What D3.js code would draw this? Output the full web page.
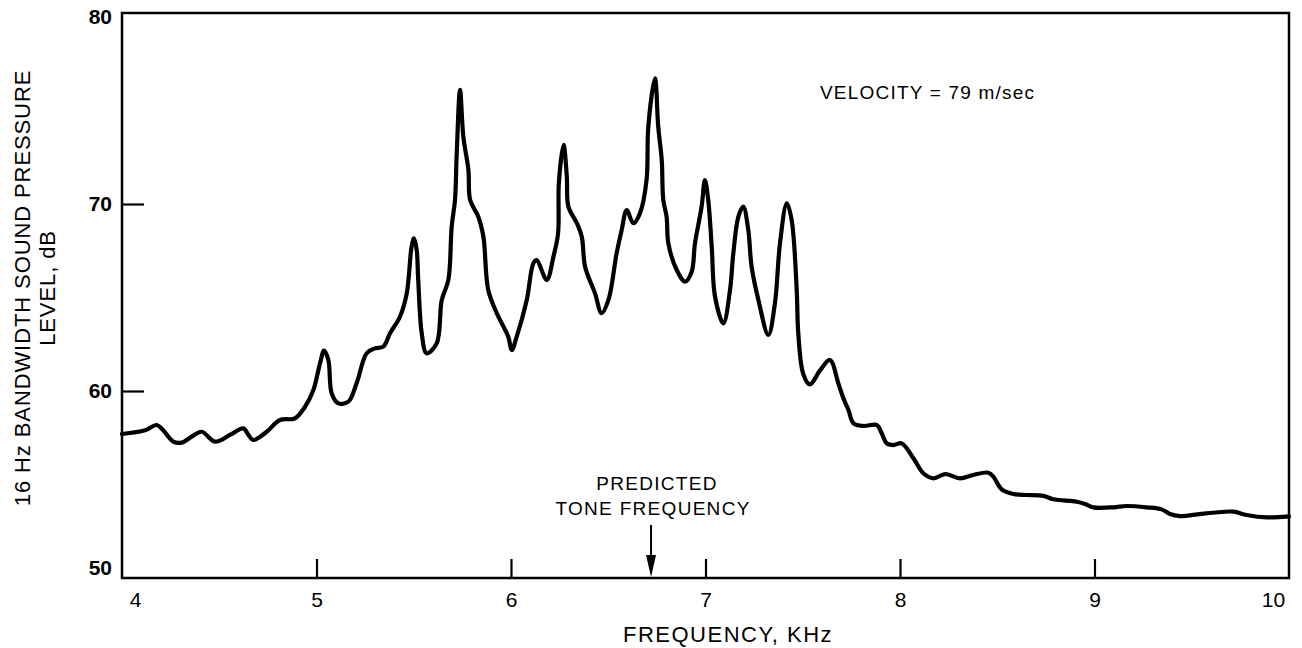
<!DOCTYPE html>
<html>
<head>
<meta charset="utf-8">
<script src="https://cdn.jsdelivr.net/npm/d3@7"></script>
<style>
  html, body { margin: 0; padding: 0; background: #fff; }
  svg { display: block; }
  text { font-family: "Liberation Sans", Arial, Helvetica, sans-serif; fill: #000; }
</style>
</head>
<body>
<svg id="chart" width="1302" height="648"></svg>
<script>
// ---- data ----
const freqKHz = [4.00, 4.118, 4.178, 4.212, 4.264, 4.307, 4.358, 4.41, 4.478, 4.555, 4.624, 4.65, 4.675, 4.744,
  4.812, 4.889, 4.941, 4.984, 5.018, 5.039, 5.061, 5.078, 5.112, 5.164, 5.206, 5.258, 5.30, 5.343, 5.378,
  5.429, 5.464, 5.489, 5.501, 5.515, 5.523, 5.541, 5.566, 5.618, 5.644, 5.678, 5.695, 5.712, 5.721, 5.738,
  5.755, 5.781, 5.79, 5.832, 5.858, 5.883, 5.927, 5.986, 6.004, 6.029, 6.081, 6.115, 6.132, 6.184, 6.218,
  6.242, 6.246, 6.27, 6.287, 6.295, 6.339, 6.364, 6.381, 6.432, 6.466, 6.501, 6.543, 6.569, 6.595, 6.629,
  6.663, 6.697, 6.706, 6.74, 6.757, 6.775, 6.783, 6.80, 6.809, 6.852, 6.895, 6.929, 6.946, 6.98, 6.997,
  7.014, 7.032, 7.049, 7.092, 7.126, 7.143, 7.169, 7.194, 7.22, 7.237, 7.272, 7.323, 7.357, 7.383, 7.418,
  7.443, 7.469, 7.477, 7.503, 7.537, 7.589, 7.64, 7.683, 7.709, 7.735, 7.761, 7.812, 7.881, 7.906, 7.932,
  7.966, 8.009, 8.069, 8.12, 8.172, 8.232, 8.308, 8.377, 8.454, 8.48, 8.523, 8.583, 8.651, 8.737, 8.788,
  8.908, 8.951, 8.994, 9.097, 9.165, 9.268, 9.345, 9.388, 9.44, 9.542, 9.611, 9.714, 9.782, 9.885, 10.0];
const levelDb = [57.7, 57.9, 58.18, 57.9, 57.29, 57.24, 57.56, 57.82, 57.29, 57.65, 58.0, 57.65, 57.38, 57.82,
  58.45, 58.54, 59.16, 60.05, 61.48, 62.16, 61.66, 59.88, 59.34, 59.43, 60.41, 62.02, 62.28, 62.37, 63.09,
  63.97, 65.22, 67.72, 68.16, 67.54, 65.94, 63.09, 62.02, 62.55, 64.87, 65.94, 68.79, 70.21, 72.71, 76.1,
  73.6, 71.82, 70.21, 69.32, 68.25, 65.4, 64.16, 62.9, 62.19, 62.9, 64.87, 66.83, 67.0, 65.94, 67.18,
  68.43, 71.1, 73.16, 71.46, 69.86, 68.97, 68.25, 66.65, 65.22, 64.16, 64.87, 67.36, 68.61, 69.68, 68.97,
  69.5, 71.28, 74.13, 76.72, 74.13, 72.35, 70.21, 69.32, 67.9, 66.47, 65.85, 66.38, 67.9, 69.86, 71.28,
  70.21, 67.72, 65.04, 63.62, 65.4, 67.36, 69.32, 69.86, 68.61, 66.65, 64.87, 63.0, 64.69, 67.9, 70.04,
  69.14, 65.4, 63.09, 60.9, 60.35, 61.1, 61.66, 60.41, 59.61, 58.98, 58.27, 58.13, 58.18, 57.74, 57.2,
  57.11, 57.2, 56.4, 55.6, 55.33, 55.56, 55.33, 55.51, 55.63, 55.42, 54.74, 54.49, 54.44, 54.39, 54.21,
  54.08, 53.96, 53.78, 53.78, 53.85, 53.78, 53.67, 53.42, 53.31, 53.42, 53.49, 53.55, 53.37, 53.24, 53.3];
const xTickValues = [4, 5, 6, 7, 8, 9, 10];
const yTickValues = [50, 60, 70, 80];
const predictedToneKHz = 6.72;
const xTitle = "FREQUENCY, KHz";
const yTitleLines = ["16 Hz BANDWIDTH SOUND PRESSURE", "LEVEL, dB"];
const velocityNote = "VELOCITY = 79 m/sec";
const predictedLines = ["PREDICTED", "TONE FREQUENCY"];

// ---- layout ----
const svg = d3.select("#chart");
const plot = { left: 122, right: 1289, top: 13, bottom: 578 };
const x = d3.scaleLinear().domain([4, 10]).range([plot.left, plot.right]);
const y = d3.scaleLinear().domain([50, 80]).range([578, 17]);

// frame
svg.append("rect")
  .attr("x", plot.left).attr("y", plot.top)
  .attr("width", plot.right - plot.left).attr("height", plot.bottom - plot.top)
  .attr("fill", "none").attr("stroke", "#000").attr("stroke-width", 2.5);

// x axis
const gx = svg.append("g").attr("transform", `translate(0,${plot.bottom})`)
  .call(d3.axisBottom(x).tickValues(xTickValues).tickSizeInner(-19).tickSizeOuter(0).tickPadding(14)
    .tickFormat(d3.format("d")));
gx.select(".domain").remove();
gx.selectAll(".tick line").attr("stroke", "#000").attr("stroke-width", 2.2)
  .filter(d => d === 4 || d === 10).remove();
gx.selectAll(".tick text").attr("font-size", 21).attr("fill", "#000")
  .attr("font-family", "'Liberation Sans', Arial, sans-serif")
  .attr("dx", d => d === 4 ? 13 : d === 10 ? -16 : 0);

// y axis
const gy = svg.append("g").attr("transform", `translate(${plot.left},0)`)
  .call(d3.axisLeft(y).tickValues(yTickValues).tickSizeInner(-22).tickSizeOuter(0).tickPadding(10)
    .tickFormat(d3.format("d")));
gy.select(".domain").remove();
gy.selectAll(".tick line").attr("stroke", "#000").attr("stroke-width", 2.2)
  .filter(d => d === 50 || d === 80).remove();
gy.selectAll(".tick text").attr("font-size", 21).attr("font-weight", "bold").attr("fill", "#000")
  .attr("font-family", "'Liberation Sans', Arial, sans-serif")
  .attr("y", d => d === 50 ? -10 : 0);

// axis titles
svg.append("text").attr("x", 728).attr("y", 642).attr("text-anchor", "middle")
  .attr("font-size", 22).attr("letter-spacing", 1.5).text(xTitle);
const yt = svg.append("text").attr("transform", "translate(30,288) rotate(-90)")
  .attr("text-anchor", "middle").attr("font-size", 22).attr("letter-spacing", 0.9);
yTitleLines.forEach((t, i) => {
  yt.append("tspan").attr("x", 0).attr("y", i * 25).text(t);
});

// curve
const data = freqKHz.map((f, i) => ({ f, v: levelDb[i] }));
svg.append("path").datum(data)
  .attr("fill", "none").attr("stroke", "#000").attr("stroke-width", 4.2)
  .attr("stroke-linejoin", "round").attr("stroke-linecap", "round")
  .attr("d", d3.line().x(d => x(d.f)).y(d => y(d.v)).curve(d3.curveCatmullRom.alpha(0.5)));

// annotations
svg.append("text").attr("x", 820).attr("y", 99).attr("font-size", 19).attr("letter-spacing", 1.2)
  .text(velocityNote);
const px = x(predictedToneKHz);
predictedLines.forEach((t, i) => {
  svg.append("text").attr("x", px + (i === 0 ? 6 : 2)).attr("y", 490 + i * 25)
    .attr("text-anchor", "middle").attr("font-size", 19).attr("letter-spacing", 1.3).text(t);
});
svg.append("line").attr("x1", px).attr("x2", px).attr("y1", 525).attr("y2", 558)
  .attr("stroke", "#000").attr("stroke-width", 2);
svg.append("path")
  .attr("d", `M${px - 5},555 L${px + 5},555 L${px},577 Z`)
  .attr("fill", "#000");
</script>
</body>
</html>
